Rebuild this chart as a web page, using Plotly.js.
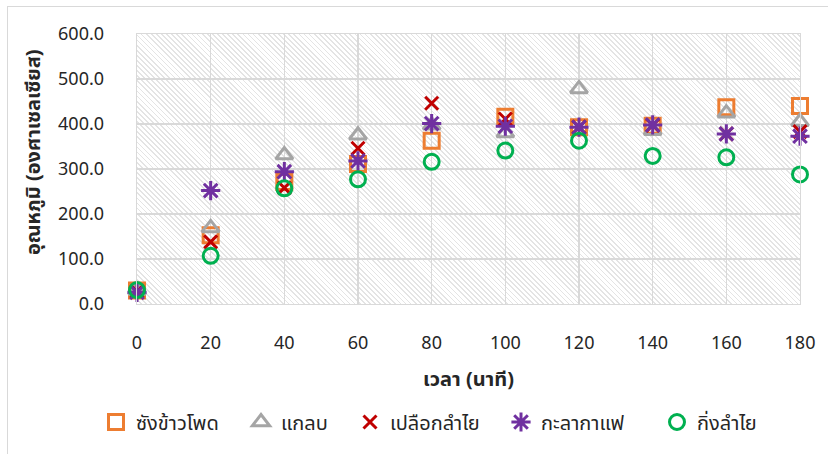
<!DOCTYPE html>
<html>
<head>
<meta charset="utf-8">
<script src="https://cdn.plot.ly/plotly-3.0.1.min.js"></script>
<style>
html,body{margin:0;padding:0;background:#fff;}
#wrap{position:relative;width:828px;height:454px;overflow:hidden;}
#frame{position:absolute;left:7px;top:6px;width:840px;height:470px;border:1.3px solid #d9d9d9;box-sizing:border-box;}
#hatch{position:absolute;left:137px;top:34px;width:663px;height:270px;
background:repeating-linear-gradient(45deg,#ffffff 0px,#ffffff 2.4px,#e4e4e4 2.4px,#e4e4e4 3.6px);}
#chart{position:absolute;left:0;top:0;width:828px;height:454px;}
</style>
</head>
<body>
<div id="wrap">
<div id="frame"></div>
<div id="hatch"></div>
<div id="chart"></div>
</div>
<script>
const times = [0, 20, 40, 60, 80, 100, 120, 140, 160, 180];
const seriesNames = ['ซังข้าวโพด', 'แกลบ', 'เปลือกลำไย', 'กะลากาแฟ', 'กิ่งลำไย'];
const corncob   = [30, 153, 271, 311, 363, 416, 393, 396, 437, 440];
const ricehusk  = [30, 169, 331, 375, 397, 380, 478, 385, 424, 405];
const longanPeel= [28, 138, 258, 346, 446, 411, 393, 397, 378, 383];
const coffeeShell=[26, 252, 294, 318, 401, 395, 393, 398, 378, 373];
const longanBranch=[31, 107, 257, 277, 316, 341, 363, 329, 326, 288];
const yTicks = [0, 100, 200, 300, 400, 500, 600];
const xTitle = 'เวลา (นาที)';
const yTitle = 'อุณหภูมิ (องศาเซลเซียส)';

const FONT = '"Noto Sans Thai", "Noto Sans", "Open Sans", sans-serif';
const colors = ['#ED7D31', '#A5A5A5', '#C00000', '#7030A0', '#00B050'];
const symbols = ['square-open', 'triangle-up-open', 'x-thin-open', 'asterisk-open', 'circle-open'];
const sizes = [15, 15, 13, 16, 15];
const values = [corncob, ricehusk, longanPeel, coffeeShell, longanBranch];
const legendIds = ['legend', 'legend2', 'legend3', 'legend4', 'legend5'];
// legend marker centres (px) in the reference
const legendPx = [116, 261, 370, 521, 677];

const W = 828, H = 454, ML = 137, MR = 28, MT = 34, MB = 150;
const PW = W - ML - MR, PH = H - MT - MB;

const traces = values.map((v, i) => ({
  type: 'scatter', mode: 'markers', x: times, y: v, name: seriesNames[i],
  legend: legendIds[i],
  marker: {symbol: symbols[i], size: sizes[i], color: colors[i],
           line: {color: colors[i], width: 3}},
  cliponaxis: false
}));

const layout = {
  width: W, height: H,
  margin: {l: ML, r: MR, t: MT, b: MB},
  paper_bgcolor: 'rgba(0,0,0,0)', plot_bgcolor: 'rgba(0,0,0,0)',
  font: {family: FONT, size: 18, color: '#262626'},
  showlegend: true,
  xaxis: {range: [0, 180], tickvals: times, ticktext: times.map(String),
          showgrid: true, gridcolor: '#d9d9d9', gridwidth: 1.3,
          zeroline: false, showline: true, linecolor: '#d9d9d9', linewidth: 1.3, mirror: true,
          ticks: '', ticklabelstandoff: 22, automargin: false,
          title: {text: '<b>' + xTitle + '</b>', standoff: 16, font: {size: 20, color: '#262626'}}},
  yaxis: {range: [0, 600], tickvals: yTicks, ticktext: yTicks.map(v => v.toFixed(1)),
          showgrid: true, gridcolor: '#d9d9d9', gridwidth: 1.3,
          zeroline: false, showline: true, linecolor: '#d9d9d9', linewidth: 1.3, mirror: true,
          ticks: '', ticklabelstandoff: 28, automargin: false},
  annotations: [{text: '<b>' + yTitle + '</b>', textangle: -90, showarrow: false,
                 xref: 'paper', yref: 'paper',
                 x: (34 - ML) / PW, y: (MT + PH - 152) / PH,
                 xanchor: 'center', yanchor: 'middle',
                 font: {size: 20, color: '#262626'}}]
};
legendIds.forEach((id, i) => {
  layout[id] = {orientation: 'h', xref: 'paper', yref: 'paper',
    x: (legendPx[i] - 20 - ML) / PW, xanchor: 'left',
    y: (MT + PH - 422) / PH, yanchor: 'middle',
    font: {size: 20, color: '#262626'}, bgcolor: 'rgba(0,0,0,0)', itemwidth: 30};
});

Plotly.newPlot('chart', traces, layout, {staticPlot: true, displayModeBar: false});
</script>
</body>
</html>
